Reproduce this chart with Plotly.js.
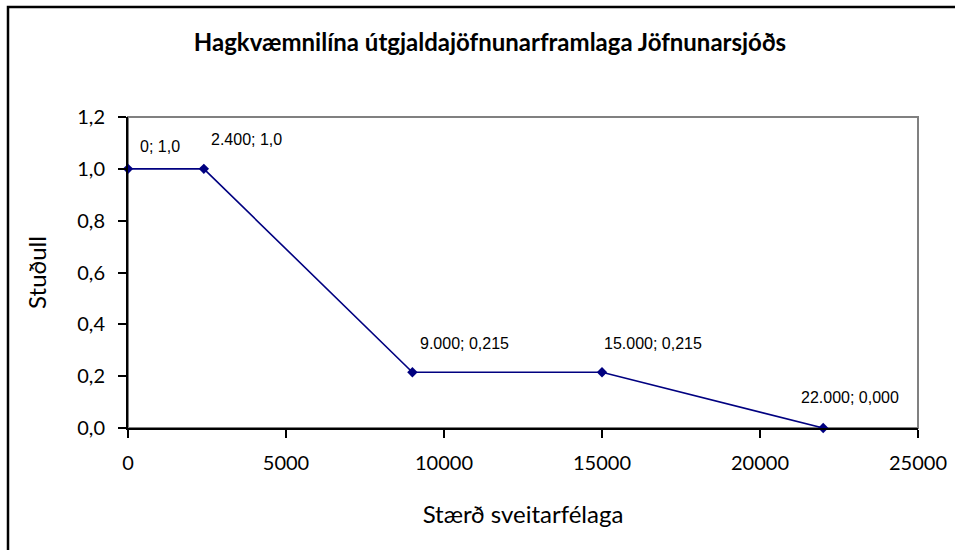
<!DOCTYPE html>
<html>
<head>
<meta charset="utf-8">
<script src="https://cdn.plot.ly/plotly-3.0.1.min.js"></script>
<style>html,body{margin:0;padding:0;background:#fff;}#chart{width:955px;height:550px;}</style>
</head>
<body>
<div id="chart"></div>
<script>
// Data
var sizes = [0, 2400, 9000, 15000, 22000];
var factors = [1.0, 1.0, 0.215, 0.215, 0.0];
var pointLabels = ["0; 1,0", "2.400; 1,0", "9.000; 0,215", "15.000; 0,215", "22.000; 0,000"];
var xTicks = [0, 5000, 10000, 15000, 20000, 25000];
var yTicks = [0, 0.2, 0.4, 0.6, 0.8, 1.0, 1.2];
var titleText = "Hagkvæmnilína útgjaldajöfnunarframlaga Jöfnunarsjóðs";
var xTitle = "Stærð sveitarfélaga";
var yTitle = "Stuðull";

// label placement offsets (px) relative to each point
var labelDX = [10, 5, 6, 0, -24];
var labelDY = [22, 29, 29, 29, 31];

var navy = "#000080";
var annotations = sizes.map(function (s, i) {
  return {
    x: s, y: factors[i], xref: "x", yref: "y",
    text: pointLabels[i], showarrow: false,
    xanchor: "left", yanchor: "middle",
    xshift: labelDX[i], yshift: labelDY[i],
    font: {family: "Liberation Sans, Arial, sans-serif", size: 16, color: "#000"}
  };
});

var trace = {
  x: sizes, y: factors, type: "scatter", mode: "lines+markers",
  line: {color: navy, width: 1.6},
  marker: {symbol: "diamond", size: 8, color: navy},
  cliponaxis: false, hoverinfo: "none"
};

var L = 128, R = 37, T = 117, B = 122, W = 955, H = 550;
var pw = W - L - R, ph = H - T - B;

var layout = {
  width: W, height: H,
  margin: {l: L, r: R, t: T, b: B, pad: 0},
  paper_bgcolor: "#fff", plot_bgcolor: "#fff",
  separators: ",.",
  showlegend: false,
  font: {family: "Lato, Carlito, sans-serif", color: "#000"},
  title: {
    text: "<b>" + titleText + "</b>",
    x: 490 / W, xref: "container", xanchor: "center",
    y: 1 - 43 / H, yref: "container", yanchor: "middle",
    font: {family: "Lato, sans-serif", size: 24, color: "#000"}
  },
  xaxis: {
    range: [0, 25000], tickvals: xTicks, tickformat: "d",
    showgrid: false, zeroline: false,
    showline: true, linecolor: "#000", linewidth: 2,
    ticks: "outside", ticklen: 8, tickwidth: 2, tickcolor: "#000",
    ticklabelstandoff: 8,
    tickfont: {family: "Lato, sans-serif", size: 20, color: "#000"},
    title: {text: xTitle, standoff: 33, font: {family: "Lato, sans-serif", size: 24, color: "#000"}}
  },
  yaxis: {
    range: [0, 1.2], tickvals: yTicks, tickformat: ".1f",
    showgrid: false, zeroline: false,
    showline: true, linecolor: "#000", linewidth: 2,
    ticks: "outside", ticklen: 8, tickwidth: 2, tickcolor: "#000",
    ticklabelstandoff: 9,
    tickfont: {family: "Lato, sans-serif", size: 20, color: "#000"},
    title: {text: yTitle, standoff: 24, font: {family: "Lato, sans-serif", size: 24, color: "#000"}}
  },
  shapes: [
    {type: "rect", xref: "paper", yref: "paper", x0: 0, x1: 1, y0: 0, y1: 1,
     line: {color: "#808080", width: 2}, layer: "below"},
    {type: "rect", xref: "paper", yref: "paper",
     x0: (8 - L) / pw, x1: (W + 20 - L) / pw,
     y0: (H - B - (H + 20)) / ph, y1: (H - B - 7) / ph,
     line: {color: "#000", width: 2.5}}
  ],
  annotations: annotations
};

Plotly.newPlot("chart", [trace], layout, {staticPlot: true, displayModeBar: false});
</script>
</body>
</html>
